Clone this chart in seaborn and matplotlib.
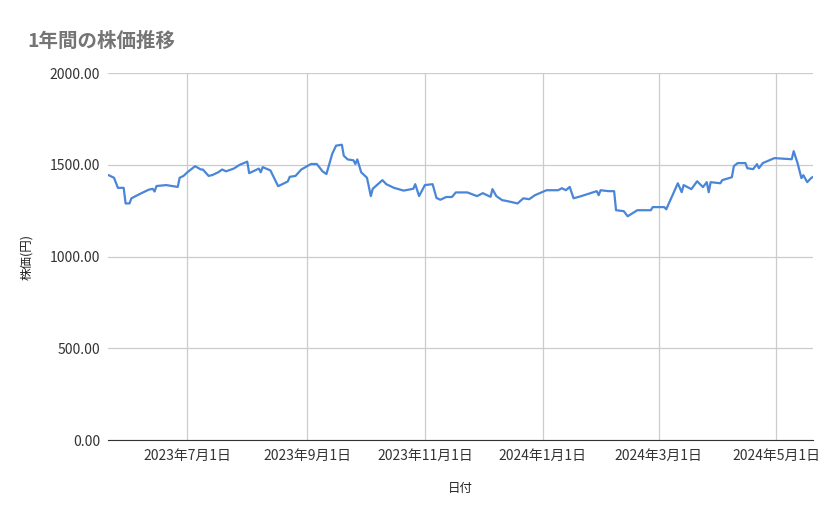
import matplotlib
matplotlib.use("Agg")
import matplotlib.pyplot as plt
import matplotlib.ticker as mticker
import seaborn as sns
import pandas as pd

dates = ["2023-05-21","2023-05-24","2023-05-26","2023-05-29","2023-05-30","2023-06-01","2023-06-02",
 "2023-06-07","2023-06-11","2023-06-13","2023-06-14","2023-06-15","2023-06-20","2023-06-23","2023-06-26",
 "2023-06-27","2023-06-29","2023-07-01","2023-07-05","2023-07-08","2023-07-09","2023-07-12","2023-07-14",
 "2023-07-17","2023-07-19","2023-07-21","2023-07-25","2023-07-28","2023-08-01","2023-08-02","2023-08-07",
 "2023-08-08","2023-08-09","2023-08-13","2023-08-17","2023-08-22","2023-08-23","2023-08-26","2023-08-29",
 "2023-09-03","2023-09-06","2023-09-09","2023-09-11","2023-09-14","2023-09-16","2023-09-19","2023-09-20",
 "2023-09-22","2023-09-25","2023-09-26","2023-09-27","2023-09-29","2023-10-02","2023-10-04","2023-10-05",
 "2023-10-10","2023-10-12","2023-10-16","2023-10-21","2023-10-26","2023-10-27","2023-10-29","2023-11-01",
 "2023-11-05","2023-11-07","2023-11-09","2023-11-12","2023-11-15","2023-11-17","2023-11-23","2023-11-28",
 "2023-12-01","2023-12-05","2023-12-06","2023-12-08","2023-12-11","2023-12-14","2023-12-19","2023-12-22",
 "2023-12-25","2023-12-28","2024-01-03","2024-01-09","2024-01-11","2024-01-13","2024-01-15","2024-01-17",
 "2024-01-21","2024-01-24","2024-01-29","2024-01-30","2024-01-31","2024-02-04","2024-02-07","2024-02-08",
 "2024-02-12","2024-02-14","2024-02-19","2024-02-26","2024-02-27","2024-03-04","2024-03-05","2024-03-11",
 "2024-03-13","2024-03-14","2024-03-18","2024-03-21","2024-03-24","2024-03-26","2024-03-27","2024-03-28",
 "2024-04-02","2024-04-03","2024-04-08","2024-04-09","2024-04-11","2024-04-15","2024-04-16","2024-04-19",
 "2024-04-21","2024-04-22","2024-04-24","2024-04-30","2024-05-09","2024-05-10","2024-05-12","2024-05-14",
 "2024-05-15","2024-05-17","2024-05-19","2024-05-20"]
prices = [1445,1430,1375,1375,1290,1290,1318,
 1345,1365,1370,1355,1385,1390,1385,1380,
 1430,1440,1460,1493,1475,1475,1440,1445,
 1460,1475,1465,1480,1500,1518,1455,1480,
 1460,1488,1470,1384,1410,1435,1440,1475,
 1505,1505,1465,1450,1560,1605,1610,1550,
 1530,1525,1505,1530,1460,1430,1330,1370,
 1417,1395,1375,1360,1370,1395,1330,1390,
 1395,1320,1310,1325,1325,1350,1350,1330,
 1346,1326,1368,1330,1308,1302,1290,1318,
 1313,1335,1362,1362,1373,1362,1380,1318,
 1330,1340,1357,1335,1362,1357,1357,1253,
 1248,1220,1253,1253,1270,1270,1258,1400,
 1351,1390,1368,1411,1379,1406,1351,1406,
 1400,1417,1433,1493,1510,1510,1482,1477,
 1504,1482,1510,1537,1531,1575,1510,1428,
 1444,1406,1428,1435]
yticks = [0, 500, 1000, 1500, 2000]
xticks = ["2023-07-01","2023-09-01","2023-11-01","2024-01-01","2024-03-01","2024-05-01"]
xticklabels = ["2023年7月1日","2023年9月1日","2023年11月1日","2024年1月1日","2024年3月1日","2024年5月1日"]

df = pd.DataFrame({"日付": pd.to_datetime(dates), "株価": prices})

sns.set_style("white")
plt.rcParams['font.family'] = ['Noto Sans CJK JP', 'DejaVu Sans']

fig = plt.figure(figsize=(8.39, 5.19), dpi=100)
ax = fig.add_axes([0.129, 0.152, 0.84, 0.707])
sns.lineplot(data=df, x="日付", y="株価", ax=ax, color="#4a86d8", linewidth=1.6)

ax.set_xlim(pd.Timestamp("2023-05-21"), pd.Timestamp("2024-05-20"))
ax.set_ylim(0, 2000)
ax.set_yticks(yticks)
ax.yaxis.set_major_formatter(mticker.FuncFormatter(lambda v, p: f"{v:.2f}"))
ax.set_xticks(pd.to_datetime(xticks))
ax.set_xticklabels(xticklabels)
ax.grid(True, color="#cccccc", linewidth=0.9)
ax.set_axisbelow(True)
for s in ["top", "right", "left"]:
    ax.spines[s].set_visible(False)
ax.spines["bottom"].set_color("#333333")
ax.tick_params(axis="both", length=0, labelsize=10, colors="#333333", pad=6)
ax.set_xlabel("日付", fontsize=9, color="#222222", labelpad=14)
ax.set_ylabel("株価(円)", fontsize=9, color="#222222", labelpad=12)
fig.text(0.033, 0.91, "1年間の株価推移", fontsize=14, color="#757575", fontweight="bold")

fig.savefig("out.png", dpi=100)
